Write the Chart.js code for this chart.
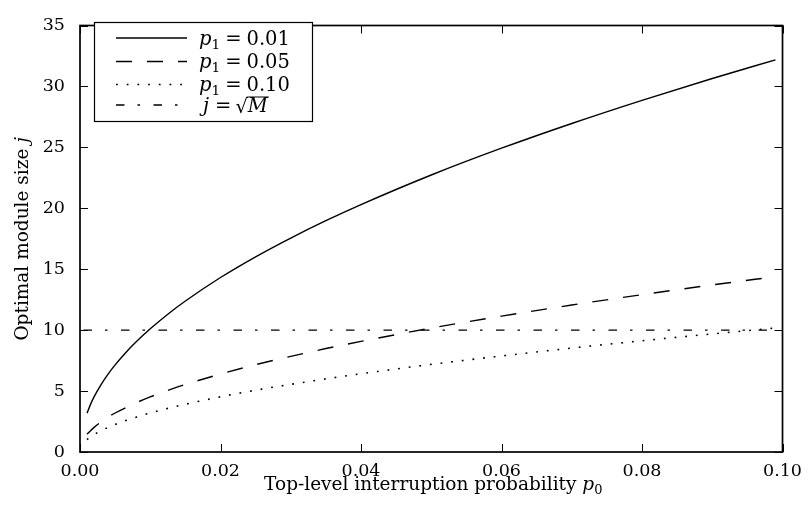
<!DOCTYPE html>
<html><head><meta charset="utf-8">
<script src="https://cdn.jsdelivr.net/npm/chart.js@4/dist/chart.umd.min.js"></script>
<style>html,body{margin:0;padding:0;background:#fff}canvas{display:block}</style>
</head><body>
<canvas id="c" width="811" height="513"></canvas>
<script>
// ---- data ----
const p0 = [0.001,0.0015,0.002,0.003,0.004,0.005,0.0065,0.008,0.01,0.0125,0.015,0.02,0.025,0.03,0.035,0.04,0.05,0.06,0.07,0.08,0.09,0.099];
const jP1_001 = [3.19,3.91,4.52,5.53,6.39,7.15,8.15,9.04,10.11,11.31,12.39,14.32,16.02,17.56,18.98,20.30,22.73,24.93,26.96,28.86,30.65,32.18];
const jP1_005 = [1.45,1.75,2.02,2.47,2.86,3.20,3.64,4.04,4.52,5.06,5.54,6.40,7.17,7.85,8.49,9.08,10.17,11.15,12.06,12.91,13.71,14.39];
const jP1_010 = [1.01,1.24,1.43,1.75,2.02,2.26,2.58,2.86,3.20,3.58,3.92,4.53,5.07,5.55,6.00,6.42,7.19,7.88,8.53,9.13,9.69,10.18];
const sqrtMx = [0.0005, 0.0993];
const sqrtMy = [10, 10];
const xTicks = [0, 0.02, 0.04, 0.06, 0.08, 0.10];
const yTicks = [0, 5, 10, 15, 20, 25, 30, 35];
const seriesLabels = ['p\u2081 = 0.01', 'p\u2081 = 0.05', 'p\u2081 = 0.10', 'j = \u221AM'];
const legendSym = ['p', 'p', 'p', 'j'];
const legendSub = ['1', '1', '1', ''];
const legendRhs = ['0.01', '0.05', '0.10', 'M'];
const xTitle = 'Top-level interruption probability ';
const xTitleSym = 'p', xTitleSub = '0';
const yTitle = 'Optimal module size ';
const yTitleSym = 'j';

const F = 'DejaVu Serif';
const pts = (xs, ys) => xs.map((x, i) => ({x, y: ys[i]}));

const framePlugin = {
  id: 'frame',
  afterDatasetsDraw(chart) {
    const {ctx, chartArea: a, scales: {x, y}} = chart;
    ctx.save();
    ctx.strokeStyle = '#000';
    ctx.lineWidth = 1;
    const tl = 8;
    ctx.beginPath();
    x.ticks.forEach(t => {
      const px = Math.round(x.getPixelForValue(t.value)) + 0.5;
      ctx.moveTo(px, a.bottom); ctx.lineTo(px, a.bottom - tl);
      ctx.moveTo(px, a.top); ctx.lineTo(px, a.top + tl);
    });
    y.ticks.forEach(t => {
      const py = Math.round(y.getPixelForValue(t.value)) + 0.5;
      ctx.moveTo(a.left, py); ctx.lineTo(a.left + tl, py);
      ctx.moveTo(a.right, py); ctx.lineTo(a.right - tl, py);
    });
    ctx.stroke();
    ctx.lineWidth = 1.7;
    ctx.strokeRect(a.left, a.top, a.right - a.left, a.bottom - a.top);
    ctx.restore();
  }
};

const textPlugin = {
  id: 'texText',
  afterDraw(chart) {
    const ctx = chart.ctx;
    const a = chart.chartArea;
    ctx.save();
    ctx.fillStyle = '#000';
    ctx.textBaseline = 'alphabetic';
    ctx.textAlign = 'left';
    // x title
    const fs = 18.5;
    ctx.font = fs + 'px "' + F + '"';
    const w1 = ctx.measureText(xTitle).width;
    ctx.font = 'italic ' + fs + 'px "' + F + '"';
    const w2 = ctx.measureText(xTitleSym).width;
    ctx.font = (fs * 0.7) + 'px "' + F + '"';
    const w3 = ctx.measureText(xTitleSub).width;
    let x0 = (a.left + a.right) / 2 - (w1 + w2 + w3) / 2 + 2;
    const by = 490;
    ctx.font = fs + 'px "' + F + '"'; ctx.fillText(xTitle, x0, by);
    ctx.font = 'italic ' + fs + 'px "' + F + '"'; ctx.fillText(xTitleSym, x0 + w1, by);
    ctx.font = (fs * 0.7) + 'px "' + F + '"'; ctx.fillText(xTitleSub, x0 + w1 + w2, by + 3.5);
    // y title
    ctx.save();
    ctx.translate(28, (a.top + a.bottom) / 2);
    ctx.rotate(-Math.PI / 2);
    ctx.font = fs + 'px "' + F + '"';
    const v1 = ctx.measureText(yTitle).width;
    ctx.font = 'italic ' + fs + 'px "' + F + '"';
    const v2 = ctx.measureText(yTitleSym).width;
    const s0 = -(v1 + v2) / 2;
    ctx.font = fs + 'px "' + F + '"'; ctx.fillText(yTitle, s0, 0);
    ctx.font = 'italic ' + fs + 'px "' + F + '"'; ctx.fillText(yTitleSym, s0 + v1, 0);
    ctx.restore();

    // legend
    const bx = 94.5, byy = 22.5, bw = 218, bh = 99;
    ctx.fillStyle = '#fff';
    ctx.fillRect(bx, byy, bw, bh);
    ctx.strokeStyle = '#000';
    ctx.lineWidth = 1.2;
    ctx.strokeRect(bx, byy, bw, bh);
    const rows = [38, 61.5, 84.5, 105];
    const lf = 19.5;
    chart.data.datasets.forEach((ds, i) => {
      const y = rows[i];
      ctx.beginPath();
      ctx.setLineDash(ds.borderDash || []);
      ctx.lineWidth = ds.borderWidth;
      ctx.strokeStyle = ds.borderColor;
      ctx.moveTo(116, y); ctx.lineTo(187, y);
      ctx.stroke();
      ctx.setLineDash([]);
      ctx.fillStyle = '#000';
      const base = y + 6.5;
      let tx = (i === 3) ? 203 : 199;
      ctx.font = 'italic ' + lf + 'px "' + F + '"';
      ctx.fillText(legendSym[i], tx, base);
      tx += ctx.measureText(legendSym[i]).width;
      if (legendSub[i]) {
        ctx.font = (lf * 0.7) + 'px "' + F + '"';
        ctx.fillText(legendSub[i], tx, base + 4);
        tx += ctx.measureText(legendSub[i]).width;
      }
      tx += (i === 3) ? 6 : 5;
      ctx.font = lf + 'px "' + F + '"';
      ctx.fillText('=', tx, base);
      tx += ctx.measureText('=').width + 5;
      if (i === 3) {
        const sx = tx - 1;
        ctx.fillText('\u221A', sx, base + 1);
        const m = ctx.measureText('\u221A');
        const topY = base + 1 - m.actualBoundingBoxAscent;
        ctx.font = 'italic ' + lf + 'px "' + F + '"';
        const mx = sx + m.width;
        ctx.fillText(legendRhs[i], mx, base);
        const mw = ctx.measureText(legendRhs[i]).width;
        ctx.beginPath();
        ctx.lineWidth = 1;
        ctx.moveTo(mx - 1, topY + 0.5); ctx.lineTo(mx + mw + 1, topY + 0.5);
        ctx.stroke();
      } else {
        ctx.fillText(legendRhs[i], tx, base);
      }
    });
    ctx.restore();
  }
};

const lineBase = {borderColor: '#000', backgroundColor: '#000', pointRadius: 0, fill: false, cubicInterpolationMode: 'monotone', borderWidth: 1.4};

new Chart(document.getElementById('c'), {
  type: 'line',
  data: {
    datasets: [
      Object.assign({label: seriesLabels[0], data: pts(p0, jP1_001), borderDash: []}, lineBase),
      Object.assign({label: seriesLabels[1], data: pts(p0, jP1_005), borderDash: [16, 15]}, lineBase),
      Object.assign(Object.assign({}, lineBase), {label: seriesLabels[2], data: pts(p0, jP1_010), borderDash: [1.8, 8.9], borderWidth: 1.6}),
      Object.assign({label: seriesLabels[3], data: pts(sqrtMx, sqrtMy), borderDash: [8.5, 13, 2.5, 13.5]}, lineBase)
    ]
  },
  options: {
    responsive: false,
    devicePixelRatio: 1,
    animation: false,
    events: [],
    layout: {padding: {top: 14, right: 23, left: 0, bottom: 0}},
    plugins: {legend: {display: false}, tooltip: {enabled: false}, title: {display: false}},
    scales: {
      x: {
        type: 'linear', min: 0, max: 0.1,
        afterBuildTicks: s => { s.ticks = xTicks.map(v => ({value: v})); },
        afterFit: s => { s.height = 61; },
        grid: {display: false, drawTicks: false},
        border: {display: false},
        ticks: {color: '#000', font: {family: F, size: 17.5}, padding: 9, maxRotation: 0, autoSkip: false,
          callback: v => Number(v).toFixed(2)}
      },
      y: {
        type: 'linear', min: 0, max: 35,
        afterBuildTicks: s => { s.ticks = yTicks.map(v => ({value: v})); },
        afterFit: s => { s.width = 80; },
        grid: {display: false, drawTicks: false},
        border: {display: false},
        ticks: {color: '#000', font: {family: F, size: 17.5}, padding: 15, autoSkip: false,
          callback: v => String(v)}
      }
    }
  },
  plugins: [framePlugin, textPlugin]
});
</script>
</body></html>
